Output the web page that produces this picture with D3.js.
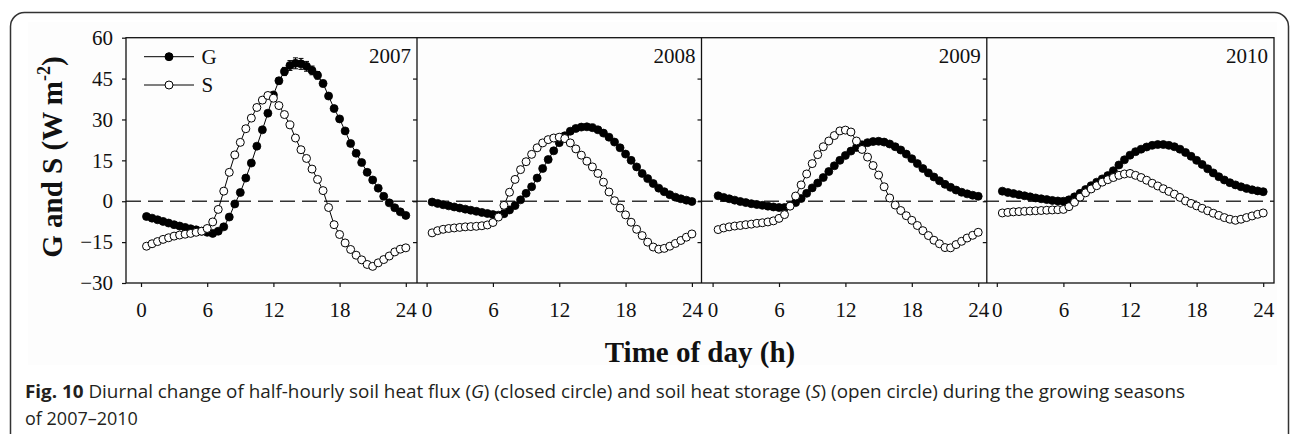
<!DOCTYPE html>
<html><head><meta charset="utf-8">
<script src="https://cdn.jsdelivr.net/npm/d3@7/dist/d3.min.js"></script>
<style>body{margin:0;background:#fff;} svg{display:block;}</style>
</head><body>
<svg id="c" width="1290" height="434"></svg>
<script>
// ---------------- data ----------------
const hours = [0.5,1,1.5,2,2.5,3,3.5,4,4.5,5,5.5,6,6.5,7,7.5,8,8.5,9,9.5,10,10.5,11,11.5,12,
               12.5,13,13.5,14,14.5,15,15.5,16,16.5,17,17.5,18,18.5,19,19.5,20,20.5,21,21.5,22,22.5,23,23.5,24];
const years = ["2007","2008","2009","2010"];
const xTickValues = [0,6,12,18,24];
const yTickValues = [-30,-15,0,15,30,45,60];
const seriesNames = ["G","S"];

const G2007 = [-5.6,-6.2,-6.8,-7.4,-8.0,-8.6,-9.1,-9.6,-10.1,-10.5,-11.0,-11.4,-11.8,-11.0,-9.4,-5.8,-1.0,3.2,8.5,14.0,20.2,26.2,32.3,39.0,
               44.2,47.6,49.8,50.6,50.4,49.5,48.0,46.2,43.2,38.6,34.0,30.2,25.8,21.2,17.6,14.2,10.6,7.8,4.8,1.8,-0.6,-2.4,-3.9,-5.2];
const S2007 = [-16.5,-15.6,-14.8,-14.0,-13.4,-12.8,-12.4,-12.1,-11.8,-11.4,-11.0,-10.0,-7.6,-3.0,3.7,10.6,17.0,21.6,26.6,30.5,34.4,37.1,38.8,37.8,
               35.1,31.8,28.0,23.2,18.9,15.7,11.8,8.0,3.9,-2.3,-8.6,-12.2,-15.3,-17.7,-19.8,-21.5,-23.2,-23.9,-22.6,-21.4,-20.1,-18.6,-17.6,-17.1];
const errG2007 = [0,0,0,0,0,0,0,0,0,0,0,0,0,0,0,0,0,0,0,0,0,0,0,0,
                  1.2,1.5,1.8,2.0,2.0,1.8,1.6,1.4,1.2,0,0,0,0,0,0,0,0,0,0,0,0,0,0,0];
const G2008 = [-0.3,-0.8,-1.3,-1.7,-2.1,-2.5,-2.9,-3.3,-3.7,-4.1,-4.5,-4.9,-5.1,-4.6,-3.2,-1.6,0.5,2.9,5.3,8.5,12.0,15.3,18.5,21.5,
               24.0,25.7,26.7,27.2,27.3,27.0,26.2,25.0,23.5,21.7,19.6,17.3,15.0,12.6,10.2,8.3,6.5,4.8,3.5,2.4,1.5,0.9,0.4,-0.1];
const S2008 = [-11.6,-10.8,-10.3,-10.0,-9.8,-9.6,-9.4,-9.3,-9.2,-9.0,-8.7,-7.8,-5.8,-1.5,3.3,8.0,11.6,14.5,17.2,19.6,21.4,22.6,23.2,23.5,
               23.0,21.4,19.2,16.9,14.7,12.6,10.2,7.0,3.4,0.2,-2.5,-5.0,-7.7,-10.3,-12.6,-15.0,-16.8,-17.6,-17.3,-16.5,-15.5,-14.4,-13.2,-12.0];
const G2009 = [2.0,1.4,0.9,0.4,-0.1,-0.5,-0.9,-1.2,-1.5,-1.8,-2.1,-2.3,-2.3,-1.7,-0.5,1.0,2.9,4.9,6.7,8.7,10.9,13.0,15.0,16.8,
               18.4,19.7,20.7,21.5,21.9,22.0,21.7,21.0,20.0,18.8,17.3,15.6,13.8,12.0,10.4,8.9,7.5,6.2,5.1,4.1,3.3,2.7,2.2,1.8];
const S2009 = [-10.4,-9.8,-9.4,-9.1,-8.9,-8.6,-8.4,-8.1,-7.9,-7.6,-7.2,-6.3,-4.9,-1.8,1.9,6.0,10.0,13.8,17.1,20.0,22.1,24.1,25.8,26.1,
               25.4,22.1,19.0,16.2,13.1,9.6,5.3,1.2,-1.4,-3.4,-5.3,-7.0,-8.9,-10.8,-12.6,-14.3,-15.6,-17.0,-17.1,-15.9,-14.7,-13.5,-12.5,-11.4];
const G2010 = [3.7,3.2,2.8,2.4,2.0,1.6,1.2,0.9,0.6,0.3,0.1,0.0,0.5,1.6,2.9,4.3,5.7,7.0,8.2,9.4,11.2,13.3,15.2,16.9,
               18.2,19.1,19.9,20.5,20.8,20.8,20.5,20.0,19.1,17.9,16.5,15.0,13.5,11.9,10.4,9.0,7.8,6.8,6.0,5.3,4.7,4.2,3.8,3.5];
const S2010 = [-4.3,-4.1,-3.9,-3.8,-3.7,-3.6,-3.5,-3.4,-3.3,-3.2,-3.1,-3.0,-2.0,-0.4,1.5,3.1,4.5,5.7,7.0,7.9,8.7,9.5,10.0,10.2,
               9.5,8.7,7.7,6.6,5.6,4.6,3.6,2.6,1.4,0.1,-0.8,-1.7,-2.6,-3.5,-4.4,-5.2,-6.0,-6.6,-7.0,-6.6,-6.0,-5.4,-4.8,-4.3];

const gSeries = [G2007, G2008, G2009, G2010];
const sSeries = [S2007, S2008, S2009, S2010];
const gErrors = [errG2007, null, null, null];

// ---------------- layout ----------------
const svg = d3.select("#c");
const plotTop = 37.7, plotBottom = 283;
const panelEdges = [126, 417, 701.5, 986.8, 1274];
const zeroPx = [141, 426.6, 712.6, 996.8];
const endPx  = [405.8, 691.9, 978.2, 1263.2];
const serif = "'Liberation Serif','Times New Roman',serif";
const R = 4;

// outer rounded frame
svg.append("rect").attr("x", 10.5).attr("y", 12.5).attr("width", 1278).attr("height", 520)
  .attr("rx", 14).attr("fill", "#fff").attr("stroke", "#333").attr("stroke-width", 1.5);
// faint figure background
svg.append("rect").attr("x", 28).attr("y", 22).attr("width", 1249).attr("height", 343).attr("fill", "#fdfdfd");

const y = d3.scaleLinear().domain([-30, 60]).range([plotBottom, plotTop]);

// left axis
const leftAxis = svg.append("g").attr("transform", `translate(${panelEdges[0]},0)`)
  .call(d3.axisLeft(y).tickValues(yTickValues).tickSize(4).tickPadding(9).tickSizeOuter(0));
leftAxis.select(".domain").remove();
leftAxis.selectAll("line").attr("stroke", "#111").attr("stroke-width", 1.2);
leftAxis.selectAll("text").attr("font-family", serif).attr("font-size", 21).attr("fill", "#111");

// zero dashed line
svg.append("line").attr("x1", panelEdges[0]).attr("x2", panelEdges[4])
  .attr("y1", y(0)).attr("y2", y(0)).attr("stroke", "#333").attr("stroke-width", 1.3)
  .attr("stroke-dasharray", "15,7");

years.forEach((yr, i) => {
  const x = d3.scaleLinear().domain([0, 24]).range([zeroPx[i], endPx[i]]);
  const g = svg.append("g");

  // bottom axis
  const bx = g.append("g").attr("transform", `translate(0,${plotBottom})`)
    .call(d3.axisBottom(x).tickValues(xTickValues).tickSize(4).tickPadding(15).tickSizeOuter(0));
  bx.select(".domain").remove();
  bx.selectAll("line").attr("stroke", "#111").attr("stroke-width", 1.2);
  bx.selectAll("text").attr("font-family", serif).attr("font-size", 21).attr("fill", "#111");

  // inner right ticks (panels 1-3)
  if (i < 3) {
    const rx = g.append("g").attr("transform", `translate(${panelEdges[i + 1]},0)`)
      .call(d3.axisLeft(y).tickValues(yTickValues.slice(1, -1)).tickSize(4).tickFormat("").tickSizeOuter(0));
    rx.select(".domain").remove();
    rx.selectAll("line").attr("stroke", "#111").attr("stroke-width", 1.2);
  }

  const G = gSeries[i], S = sSeries[i], E = gErrors[i];
  const line = d3.line().x((d, k) => x(hours[k])).y(d => y(d));

  // G series
  g.append("path").datum(G).attr("d", line).attr("fill", "none").attr("stroke", "#000").attr("stroke-width", 1);
  if (E) {
    const eb = g.append("g").attr("stroke", "#000").attr("stroke-width", 1);
    E.forEach((e, k) => {
      if (!e) return;
      const cx = x(hours[k]);
      eb.append("line").attr("x1", cx).attr("x2", cx).attr("y1", y(G[k] - e)).attr("y2", y(G[k] + e));
      eb.append("line").attr("x1", cx - 2.5).attr("x2", cx + 2.5).attr("y1", y(G[k] + e)).attr("y2", y(G[k] + e));
      eb.append("line").attr("x1", cx - 2.5).attr("x2", cx + 2.5).attr("y1", y(G[k] - e)).attr("y2", y(G[k] - e));
    });
  }
  g.append("g").selectAll("circle").data(G).join("circle")
    .attr("cx", (d, k) => x(hours[k])).attr("cy", d => y(d)).attr("r", R)
    .attr("fill", "#000").attr("stroke", "#000").attr("stroke-width", 0.8);

  // S series
  g.append("path").datum(S).attr("d", line).attr("fill", "none").attr("stroke", "#000").attr("stroke-width", 1);
  g.append("g").selectAll("circle").data(S).join("circle")
    .attr("cx", (d, k) => x(hours[k])).attr("cy", d => y(d)).attr("r", R)
    .attr("fill", "#fff").attr("stroke", "#000").attr("stroke-width", 1);

  // year label
  svg.append("text").attr("x", panelEdges[i + 1] - 6).attr("y", 63.3).attr("text-anchor", "end")
    .attr("font-family", serif).attr("font-size", 21).attr("fill", "#111").text(yr);
});

// plot frame and panel separators
svg.append("rect").attr("x", panelEdges[0]).attr("y", plotTop)
  .attr("width", panelEdges[4] - panelEdges[0]).attr("height", plotBottom - plotTop)
  .attr("fill", "none").attr("stroke", "#111").attr("stroke-width", 1.3);
panelEdges.slice(1, 4).forEach(px => {
  svg.append("line").attr("x1", px).attr("x2", px).attr("y1", plotTop).attr("y2", plotBottom)
    .attr("stroke", "#111").attr("stroke-width", 1.3);
});

// legend
const legRows = [{name: seriesNames[0], fill: "#000", y: 56.7}, {name: seriesNames[1], fill: "#fff", y: 85}];
const leg = svg.append("g");
legRows.forEach(r => {
  leg.append("line").attr("x1", 144).attr("x2", 194).attr("y1", r.y).attr("y2", r.y)
    .attr("stroke", "#000").attr("stroke-width", 1);
  leg.append("circle").attr("cx", 169).attr("cy", r.y).attr("r", R)
    .attr("fill", r.fill).attr("stroke", "#000").attr("stroke-width", 1);
  leg.append("text").attr("x", 201.5).attr("y", r.y + 7).attr("font-family", serif)
    .attr("font-size", 21).attr("fill", "#111").text(r.name);
});

// axis titles
const yl = svg.append("text").attr("transform", "translate(62,157) rotate(-90)")
  .attr("text-anchor", "middle").attr("font-family", serif).attr("font-size", 29)
  .attr("font-weight", "bold").attr("fill", "#111");
yl.append("tspan").text("G and S (W m");
yl.append("tspan").attr("dy", -12).attr("font-size", 18).text("-2");
yl.append("tspan").attr("dy", 12).text(")");

svg.append("text").attr("x", 700).attr("y", 362).attr("text-anchor", "middle")
  .attr("font-family", serif).attr("font-size", 29).attr("font-weight", "bold").attr("fill", "#111")
  .text("Time of day (h)");

// caption
const sans = "'Open Sans','Noto Sans',sans-serif";
const cap1 = svg.append("text").attr("x", 25).attr("y", 398.3).attr("font-family", sans)
  .attr("font-size", 18).attr("fill", "#231f20");
cap1.append("tspan").attr("font-weight", "bold").text("Fig. 10");
cap1.append("tspan").text(" Diurnal change of half-hourly soil heat flux (");
cap1.append("tspan").attr("font-style", "italic").text("G");
cap1.append("tspan").text(") (closed circle) and soil heat storage (");
cap1.append("tspan").attr("font-style", "italic").text("S");
cap1.append("tspan").text(") (open circle) during the growing seasons");
const len1 = cap1.node().getComputedTextLength();
if (Math.abs(len1 - 1160) > 4) cap1.attr("textLength", 1160).attr("lengthAdjust", "spacingAndGlyphs");

svg.append("text").attr("x", 25).attr("y", 424.5).attr("font-family", sans)
  .attr("font-size", 18).attr("fill", "#231f20").text("of 2007\u20132010");
</script>
</body></html>
